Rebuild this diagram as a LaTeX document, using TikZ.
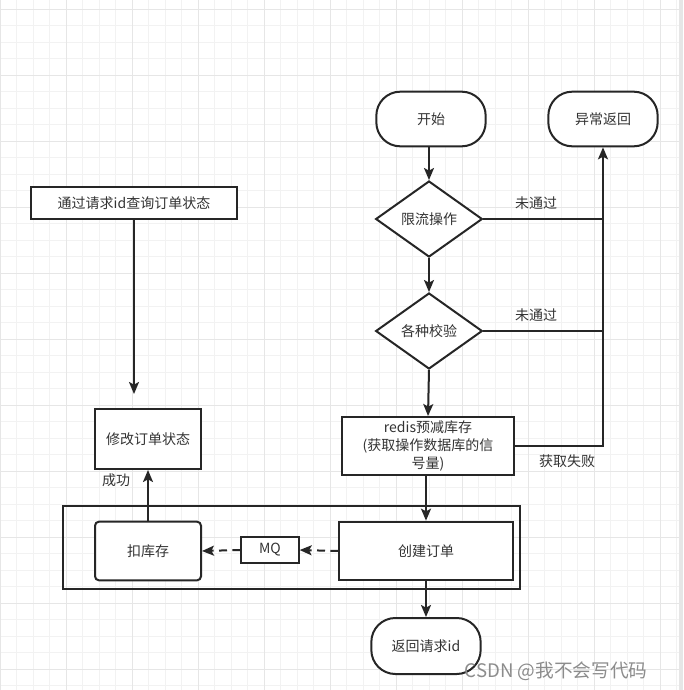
\documentclass[tikz,border=0pt]{standalone}
\usepackage{fontspec}
\setmainfont{Noto Sans CJK SC}
\usepackage{xcolor}
\usetikzlibrary{arrows.meta,shapes.geometric}

\definecolor{linec}{HTML}{262626}
\definecolor{txt}{HTML}{333333}
\definecolor{gridmin}{HTML}{F2F2F2}
\definecolor{gridmaj}{HTML}{E6E6E6}

\begin{document}
\begin{tikzpicture}[x=0.75pt, y=-0.75pt,
    every node/.style={font=\fontsize{10.5}{13.5}\selectfont, text=txt},
    box/.style={draw=linec, fill=white, line width=1.5pt, inner sep=0pt, align=center},
    term/.style={box, rounded corners=18pt, minimum width=82pt, minimum height=41pt},
    proc/.style={box, minimum width=#1},
    dec/.style={box, shape=diamond, aspect=1.4, minimum width=80pt, minimum height=57pt},
    arr/.style={draw=linec, line width=1.5pt, -{Stealth[length=9pt,width=7.5pt,inset=2pt]}},
    conn/.style={draw=linec, line width=1.5pt},
    dasharr/.style={arr, dash pattern=on 6pt off 4pt}]

    % --- background grid ---
    \useasboundingbox (0,0) rectangle (683,690);
    \fill[white] (0,0) rectangle (683,690);
    \foreach \i in {0,...,41} {
        \draw[gridmin, line width=0.75pt] (16.5*\i,0) -- (16.5*\i,690);
        \draw[gridmin, line width=0.75pt] (0,9+16.5*\i) -- (683,9+16.5*\i);
    }
    \foreach \i in {0,...,10} {
        \draw[gridmaj, line width=0.75pt] (66*\i,0) -- (66*\i,690);
        \draw[gridmaj, line width=0.75pt] (0,9+66*\i) -- (683,9+66*\i);
    }
    \fill[gridmaj] (679,0) rectangle (683,690);

    % --- main flow ---
    \node[term] (start) at (431,119) {开始};
    \node[term] (err) at (603,119) {异常返回};
    \node[dec] (limit) at (429,219) {限流操作};
    \node[dec] (check) at (429,331) {各种校验};
    \node[proc=129pt, minimum height=43.5pt] (redis) at (428,446) {redis预减库存\\(获取操作数据库的信\\号量)};

    \draw[arr] (limit.north |- start.south) -- (limit.north);
    \draw[arr] (limit.south) -- (check.north);
    \draw[arr] (check.south) -- (redis.north);
    \draw[conn] (limit.east) -- (limit.east -| err);
    \draw[conn] (check.east) -- (check.east -| err);
    \draw[arr] (redis.east) -| (err.south);
    \node (pass1) at (536,203) {未通过};
    \node (pass2) at (536,315) {未通过};
    \node (fail) at (567,461) {获取失败};

    % --- order creation ---
    \draw[draw=linec, line width=1.5pt] (63,506) rectangle (520,589);
    \node[box, rounded corners=3pt, minimum width=79.5pt, minimum height=44pt] (stock) at (148,551) {扣库存};
    \node[proc=43pt, minimum height=20pt] (mq) at (270,550) {MQ};
    \node[proc=130pt, minimum height=44pt] (create) at (426,551) {创建订单};
    \node[term, minimum height=42pt] (back) at (426,646) {返回请求id};

    \draw[arr] (create.north |- redis.south) -- (create.north);
    \draw[dasharr] (create.west) -- (mq.east);
    \draw[dasharr] (mq.west) -- (stock.east);
    \draw[arr] (create.south) -- (back.north);

    % --- order status ---
    \node[proc=154pt, minimum height=24pt] (query) at (134,203) {通过请求id查询订单状态};
    \node[proc=80pt, minimum height=45pt] (modify) at (148,439) {修改订单状态};
    \coordinate (qend) at (134,394);
    \draw[arr] (query.south) -- (qend);
    \draw[arr] (stock.north) -- (modify.south);
    \node (ok) at (116,480) {成功};

    % --- watermark ---
    \node[anchor=west, text=black!45, font=\fontsize{14}{16}\selectfont] (mark) at (460,671) {CSDN @我不会写代码};
\end{tikzpicture}
\end{document}
